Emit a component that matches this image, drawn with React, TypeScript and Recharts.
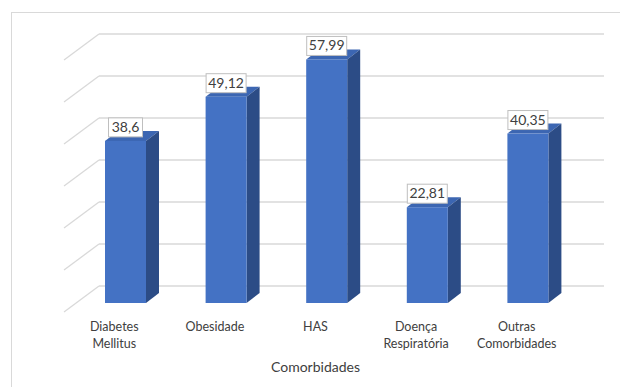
import React from 'react';
import { BarChart, Bar, XAxis, YAxis, CartesianGrid, LabelList } from 'recharts';

// Comorbidity prevalence (%)
const categories = ['Diabetes Mellitus', 'Obesidade', 'HAS', 'Doença Respiratória', 'Outras Comorbidades'];
const percentages = [38.6, 49.12, 57.99, 22.81, 40.35];
const yTicks = [0, 10, 20, 30, 40, 50, 60];

const data = categories.map((name, i) => ({ name, value: percentages[i] }));

const FONT = 'Lato, "Open Sans", sans-serif';
const GRID = '#d9d9d9';
const FRONT = '#4472C4';
const TOP = '#3C66B2';
const SIDE = '#2C4C86';
const DEPTH_X = 13;
const DEPTH_Y = 10;

// back-wall gridline plus the diagonal running out to the floor's front edge
const WallLine = (props: any) => {
  const { x1, x2, y1, index } = props;
  const yb = y1 - 17;
  return (
    <g key={`wall-${index}`}>
      <line x1={x1 + 24} y1={yb} x2={x2 + 26} y2={yb} stroke={GRID} strokeWidth={1.3} />
      <line x1={x1 - 11} y1={yb + 26} x2={x1 + 24} y2={yb} stroke={GRID} strokeWidth={1.3} />
    </g>
  );
};

// prism-like bar: front face, top face, right side face
const Bar3D = (props: any) => {
  const { x, y, width, height } = props;
  if (height <= 0) return null;
  const r = x + width;
  const b = y + height;
  return (
    <g>
      <polygon
        points={`${x},${y} ${x + DEPTH_X},${y - DEPTH_Y} ${r + DEPTH_X},${y - DEPTH_Y} ${r},${y}`}
        fill={TOP}
      />
      <polygon
        points={`${r},${y} ${r + DEPTH_X},${y - DEPTH_Y} ${r + DEPTH_X},${b - DEPTH_Y} ${r},${b}`}
        fill={SIDE}
      />
      <rect x={x} y={y} width={width} height={height} fill={FRONT} />
    </g>
  );
};

const ValueBox = (props: any) => {
  const { x, y, width, value } = props;
  const text = String(value).replace('.', ',');
  const w = text.length * 6 + 10;
  const h = 19;
  const cx = x + width / 2;
  const bottom = y - 4;
  return (
    <g>
      <rect x={cx - w / 2} y={bottom - h} width={w} height={h} fill="#ffffff" stroke="#bfbfbf" strokeWidth={1} />
      <text x={cx} y={bottom - 5} textAnchor="middle" fontFamily={FONT} fontSize={14} fill="#404040">
        {text}
      </text>
    </g>
  );
};

const CategoryTick = (props: any) => {
  const { x, y, payload } = props;
  const words = String(payload.value).split(' ');
  return (
    <g>
      {words.map((w, i) => (
        <text
          key={i}
          x={x - 11}
          y={y + 20 + i * 17}
          textAnchor="middle"
          fontFamily={FONT}
          fontSize={12.5}
          fill="#404040"
        >
          {w}
        </text>
      ))}
    </g>
  );
};

// value axis keeps its ticks (for the grid) but draws no tick text
const NoTick = () => <g />;

const XTitle = (props: any) => {
  const { viewBox } = props;
  return (
    <text
      x={viewBox.x + viewBox.width / 2 - 11}
      y={372}
      textAnchor="middle"
      fontFamily={FONT}
      fontSize={14}
      fill="#404040"
    >
      Comorbidades
    </text>
  );
};

const YTitle = (props: any) => {
  const { viewBox } = props;
  const cx = viewBox.x - 22;
  const cy = viewBox.y + viewBox.height / 2 + 7;
  return (
    <text
      x={cx}
      y={cy}
      transform={`rotate(-90 ${cx} ${cy})`}
      textAnchor="middle"
      dominantBaseline="central"
      fontFamily={FONT}
      fontSize={14}
      fill="#404040"
    >
      %
    </text>
  );
};

export default function App() {
  return (
    <div style={{ position: 'absolute', left: 0, top: 0, width: 620, height: 387, background: '#fff', overflow: 'hidden' }}>
      <div
        style={{
          position: 'absolute',
          left: 11,
          top: 12,
          width: 640,
          height: 400,
          border: `1px solid ${GRID}`,
          boxSizing: 'border-box',
        }}
      />
      <div style={{ position: 'absolute', left: 0, top: 0 }}>
        <BarChart width={620} height={387} data={data} margin={{ top: 51, right: 42, bottom: 30, left: 75 }}>
          <CartesianGrid vertical={false} horizontal={WallLine} />
          <XAxis
            dataKey="name"
            axisLine={false}
            tickLine={false}
            height={54}
            interval={0}
            tick={<CategoryTick />}
            label={{ content: <XTitle /> }}
          />
          <YAxis
            width={0}
            domain={[0, 60]}
            ticks={yTicks}
            interval={0}
            tick={<NoTick />}
            axisLine={false}
            tickLine={false}
            label={{ content: <YTitle /> }}
          />
          <Bar dataKey="value" barSize={41} shape={<Bar3D />} isAnimationActive={false}>
            <LabelList dataKey="value" content={<ValueBox />} />
          </Bar>
        </BarChart>
      </div>
    </div>
  );
}
